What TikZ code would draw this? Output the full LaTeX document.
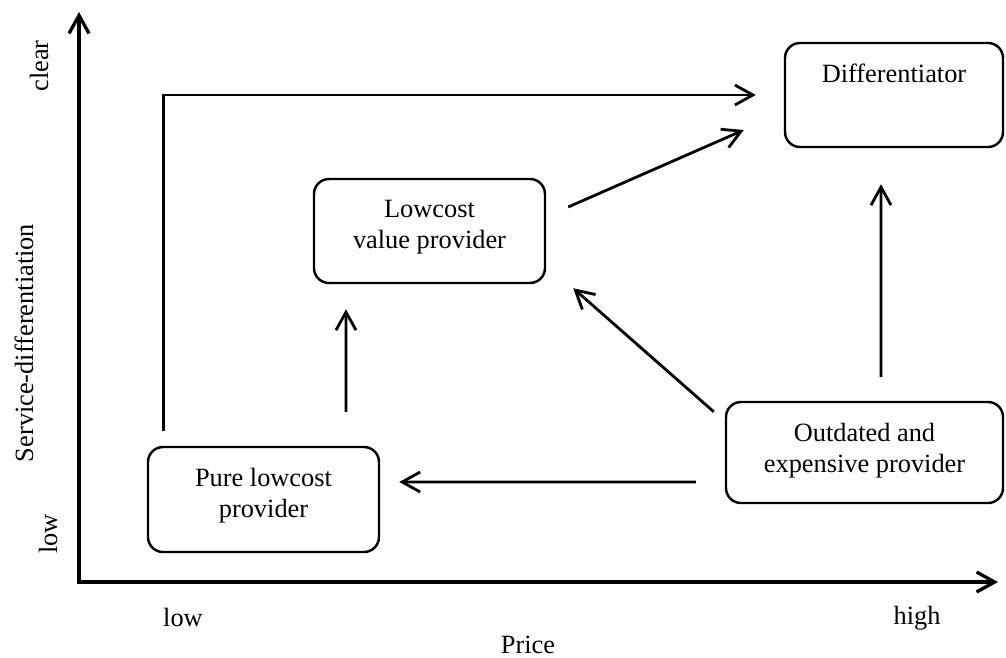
\documentclass[tikz,border=0pt]{standalone}
\usepackage{fontspec}
\setmainfont{Liberation Serif}
\usetikzlibrary{arrows.meta,calc}

\tikzset{
    box/.style={draw, rounded corners=3mm, line width=1.4pt, inner sep=0pt},
    boxtext/.style={anchor=north, align=center, inner sep=0pt},
    flow/.style={-{Straight Barb[length=3.6mm,width=4mm]}, line width=1.6pt}
}

\begin{document}
\begin{tikzpicture}[x=0.2mm, y=-0.2mm, font=\fontsize{15}{17.6}\selectfont]
        \useasboundingbox (0,0) rectangle (1006,657);

        % axes
        \coordinate (ytop) at (79,12);
        \coordinate (xend) at (998,582);
        \draw[{Straight Barb[length=3.6mm,width=4mm]}-{Straight Barb[length=3.6mm,width=4mm]}, line width=1.9pt] (ytop) |- (xend);

        \node[anchor=base, rotate=90] (clear) at (48,66) {clear};
        \node[anchor=base, rotate=90] (ylow) at (57,534) {low};
        \node[anchor=base, rotate=90] (ylabel) at (33,343) {Service-differentiation};
        \node[anchor=base] (xlow) at (183,626) {low};
        \node[anchor=base] (xhigh) at (917,624) {high};
        \node[anchor=base] (xlabel) at (528,653) {Price};

        % boxes
        \node[box, minimum width=43.6mm, minimum height=20.8mm] (diff) at (894,95) {};
        \node[box, minimum width=46.2mm, minimum height=20.8mm] (lowcost) at (429.5,231) {};
        \node[box, minimum width=46.2mm, minimum height=21mm] (pure) at (263.5,499.5) {};
        \node[box, minimum width=55.4mm, minimum height=20.2mm] (outdated) at (864.5,452.5) {};

        \node[boxtext] (difftext) at ($(diff.north)+(0,22)$) {Differentiator};
        \node[boxtext] (lowcosttext) at ($(lowcost.north)+(0,22)$) {Lowcost\\ value provider};
        \node[boxtext] (puretext) at ($(pure.north)+(0,22)$) {Pure lowcost\\ provider};
        \node[boxtext] (outdatedtext) at ($(outdated.north)+(0,22)$) {Outdated and\\ expensive provider};

        % moves
        \draw[flow] ($(pure.north west)+(17,-15)$) |- ($(diff.west)+(-28,0)$);
        \draw[flow] ($(lowcost.east)+(22,-24)$) -- ($(diff.west)+(-40,35)$);
        \draw[flow] ($(pure.north)+(82.5,-34)$) -- ($(lowcost.south)+(-83.5,25)$);
        \draw[flow] ($(outdated.north)+(16.5,-24)$) -- ($(diff.south)+(-13,36)$);
        \draw[flow] ($(outdated.north west)+(-11,11)$) -- ($(lowcost.south east)+(27,4)$);
        \draw[flow] ($(outdated.west)+(-29,29.5)$) -- ($(pure.east)+(19,-17.5)$);
    \end{tikzpicture}
\end{document}
